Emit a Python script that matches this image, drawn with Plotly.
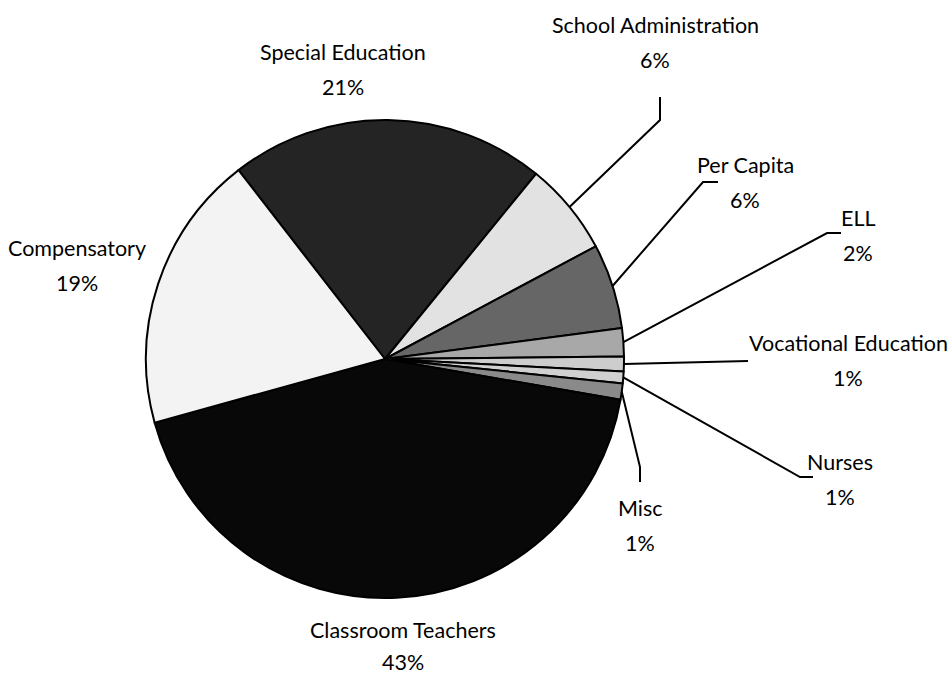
import math
import plotly.graph_objects as go

# ---- data ----
categories = ["Special Education", "School Administration", "Per Capita", "ELL",
              "Vocational Education", "Nurses", "Misc", "Classroom Teachers", "Compensatory"]
shares = [21.4, 6.3, 5.75, 1.9, 1.0, 0.8, 1.1, 43.0, 18.8]
pct_labels = [f"{round(v)}%" for v in shares]

# ---- styling / layout ----
W, H = 951, 675
CX, CY, R = 385, 359, 239          # pie centre and radius in pixels
START_DEG = -37.8                   # first slice begins here (clockwise from 12 o'clock)
FONT = "Lato, 'Open Sans', sans-serif"
FS = 21.5

fills = ["#242424", "#e2e2e2", "#666666", "#a8a8a8", "#cdcdcd", "#d0d0d0",
         "#8a8a8a", "#080808", "#f3f3f3"]

# label centre (px) for name line, and leader-line elbow points (px)
label_pos = {
    "Special Education": (343, 52),
    "School Administration": (655, 25),
    "Per Capita": (745, 165),
    "ELL": (858, 218),
    "Vocational Education": (848, 343),
    "Nurses": (840, 462),
    "Misc": (640, 508),
    "Classroom Teachers": (403, 630),
    "Compensatory": (77, 248),
}
gap_override = {"Classroom Teachers": 32}
leaders = {
    "School Administration": [(660, 120), (660, 97)],
    "Per Capita": [(703, 182), (718, 182)],
    "ELL": [(827, 233), (841, 233)],
    "Vocational Education": [(748, 361)],
    "Nurses": [(800, 477), (813, 477)],
    "Misc": [(640, 467), (640, 482)],
}
LINE_GAP = 35


def px(x, y):
    return x / W, 1 - y / H


fig = go.Figure(go.Pie(
    labels=categories, values=shares, sort=False, direction="clockwise",
    rotation=START_DEG, textinfo="none", hoverinfo="label+percent",
    marker=dict(colors=fills, line=dict(color="black", width=2)),
    domain=dict(x=[(CX - R) / W, (CX + R) / W], y=[(H - CY - R) / H, (H - CY + R) / H]),
    showlegend=False,
))

annotations = []
shapes = []
total = sum(shares)
cum = 0.0
for name, v, p in zip(categories, shares, pct_labels):
    mid = START_DEG + (cum + v / 2) / total * 360
    cum += v
    lx, ly = label_pos[name]
    gap = gap_override.get(name, LINE_GAP)
    for txt, yy in ((name, ly), (p, ly + gap)):
        ax_, ay_ = px(lx, yy)
        annotations.append(dict(x=ax_, y=ay_, xref="paper", yref="paper", text=txt,
                                showarrow=False, xanchor="center", yanchor="middle",
                                font=dict(family=FONT, size=FS, color="black")))
    if name in leaders:
        sx = CX + R * math.sin(math.radians(mid))
        sy = CY - R * math.cos(math.radians(mid))
        pts = [(sx, sy)] + leaders[name]
        path = ""
        for i, (x, y) in enumerate(pts):
            u, w = px(x, y)
            path += ("M" if i == 0 else "L") + f"{u:.5f},{w:.5f} "
        shapes.append(dict(type="path", path=path.strip(), xref="paper", yref="paper",
                           line=dict(color="black", width=2)))

fig.update_layout(
    width=W, height=H, margin=dict(l=0, r=0, t=0, b=0),
    paper_bgcolor="white", plot_bgcolor="white",
    annotations=annotations, shapes=shapes,
)
fig.write_html("out.html", config={"displayModeBar": False},
               post_script="document.body.style.margin='0';document.body.style.overflow='hidden';")
